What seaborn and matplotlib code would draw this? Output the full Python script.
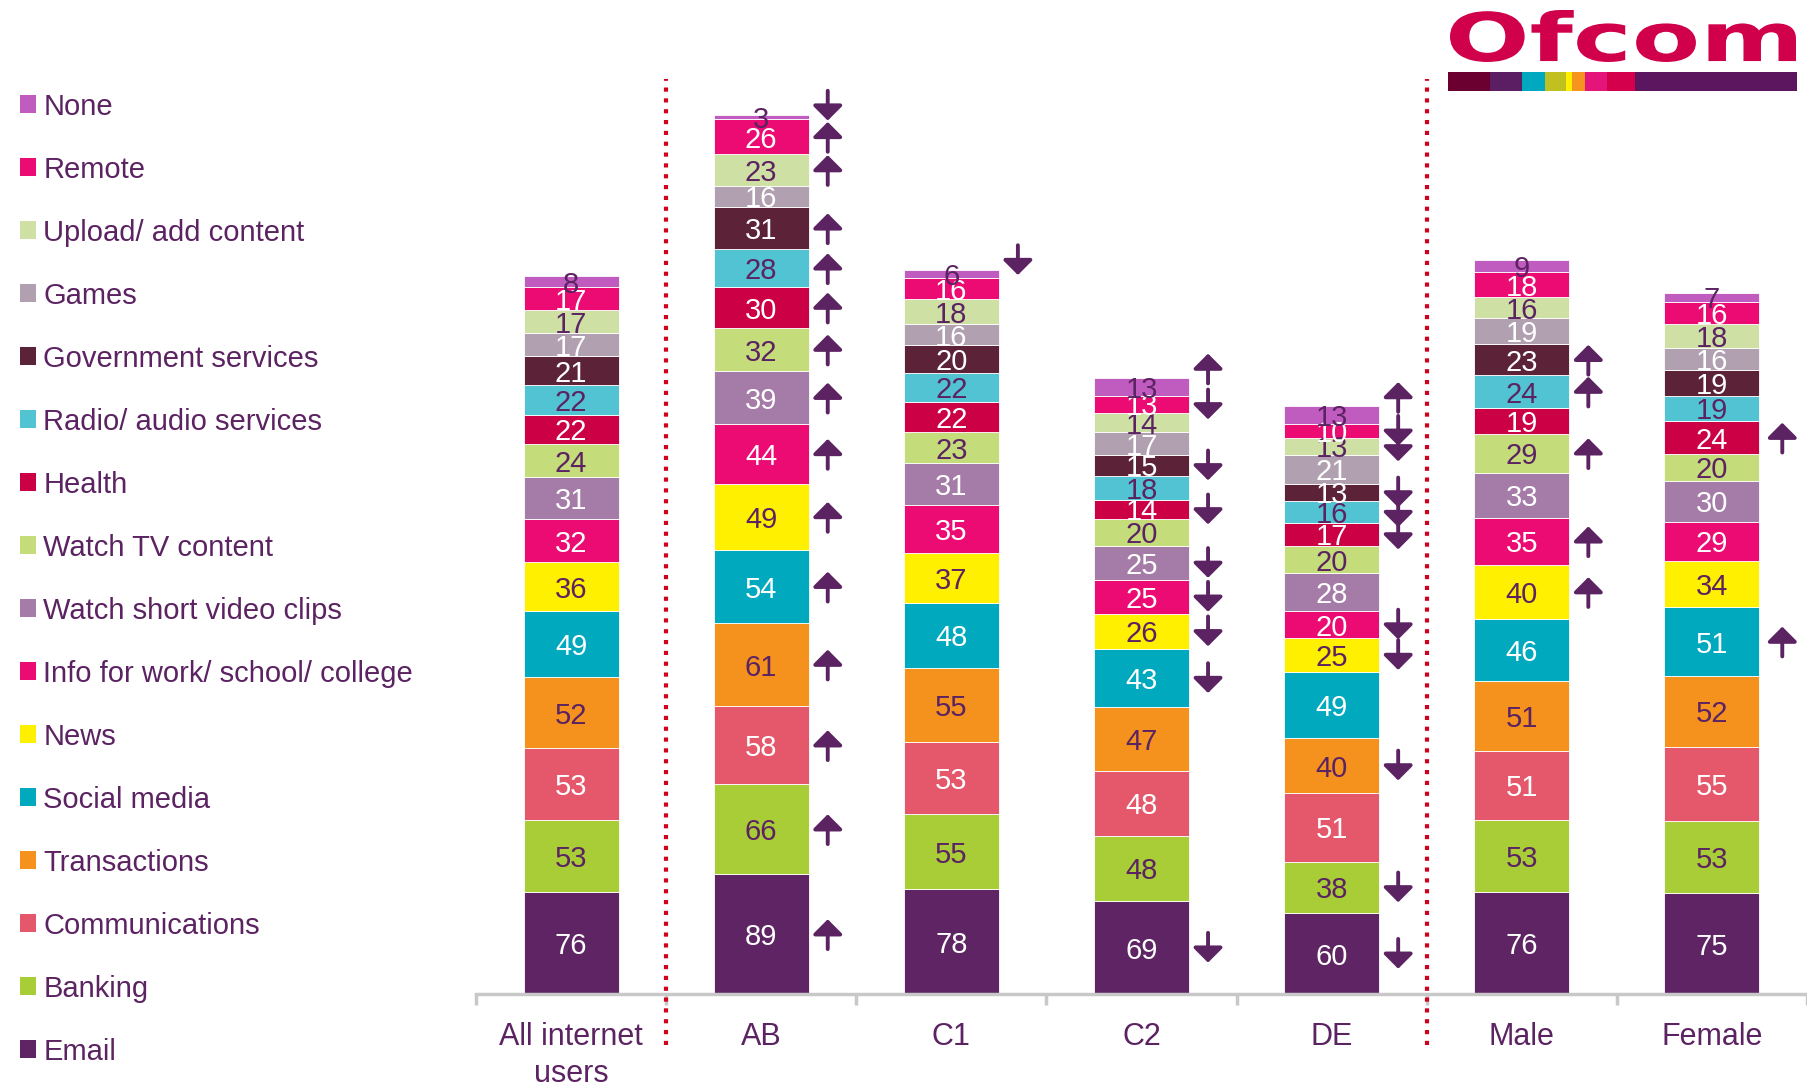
import numpy as np
import pandas as pd
import matplotlib
matplotlib.use("Agg")
import matplotlib.pyplot as plt
import seaborn as sns
from matplotlib.patches import Patch, Rectangle, PathPatch
from matplotlib.textpath import TextPath
from matplotlib.font_manager import FontProperties

# ---- data -------------------------------------------------------------
groups = ["All internet\nusers", "AB", "C1", "C2", "DE", "Male", "Female"]

activities = ["Email", "Banking", "Communications", "Transactions", "Social media",
              "News", "Info for work/ school/ college", "Watch short video clips",
              "Watch TV content", "Health", "Radio/ audio services",
              "Government services", "Games", "Upload/ add content", "Remote", "None"]

email = [76, 89, 78, 69, 60, 76, 75]
banking = [53, 66, 55, 48, 38, 53, 53]
communications = [53, 58, 53, 48, 51, 51, 55]
transactions = [52, 61, 55, 47, 40, 51, 52]
social_media = [49, 54, 48, 43, 49, 46, 51]
news = [36, 49, 37, 26, 25, 40, 34]
info_work = [32, 44, 35, 25, 20, 35, 29]
short_video = [31, 39, 31, 25, 28, 33, 30]
watch_tv = [24, 32, 23, 20, 20, 29, 20]
health = [22, 30, 22, 14, 17, 19, 24]
radio = [22, 28, 22, 18, 16, 24, 19]
government = [21, 31, 20, 15, 13, 23, 19]
games = [17, 16, 16, 17, 21, 19, 16]
upload = [17, 23, 18, 14, 13, 16, 18]
remote = [17, 26, 16, 13, 10, 18, 16]
none = [8, 3, 6, 13, 13, 9, 7]

# significant difference vs all internet users: 1 = higher, -1 = lower
sig_email = [0, 1, 0, -1, -1, 0, 0]
sig_banking = [0, 1, 0, 0, -1, 0, 0]
sig_communications = [0, 1, 0, 0, 0, 0, 0]
sig_transactions = [0, 1, 0, 0, -1, 0, 0]
sig_social_media = [0, 1, 0, -1, 0, 0, 1]
sig_news = [0, 1, 0, -1, -1, 1, 0]
sig_info_work = [0, 1, 0, -1, -1, 1, 0]
sig_short_video = [0, 1, 0, -1, 0, 0, 0]
sig_watch_tv = [0, 1, 0, 0, 0, 1, 0]
sig_health = [0, 1, 0, -1, -1, 0, 1]
sig_radio = [0, 1, 0, 0, -1, 1, 0]
sig_government = [0, 1, 0, -1, -1, 1, 0]
sig_games = [0, 0, 0, 0, 0, 0, 0]
sig_upload = [0, 1, 0, 0, -1, 0, 0]
sig_remote = [0, 1, 0, -1, -1, 0, 0]
sig_none = [0, -1, -1, 1, 1, 0, 0]

values = [email, banking, communications, transactions, social_media, news, info_work,
          short_video, watch_tv, health, radio, government, games, upload, remote, none]
sigs = [sig_email, sig_banking, sig_communications, sig_transactions, sig_social_media,
        sig_news, sig_info_work, sig_short_video, sig_watch_tv, sig_health, sig_radio,
        sig_government, sig_games, sig_upload, sig_remote, sig_none]

colors = ["#5E2463", "#A8CD37", "#E5576A", "#F5921E", "#00A9BE", "#FFF000",
          "#EC0A73", "#A57CA8", "#C4DC7A", "#CC0044", "#52C3D2", "#5C2238",
          "#B0A0B0", "#CFE0A5", "#EC0A73", "#C05BC0"]
PURPLE = "#5C2362"
label_colors = ["white", PURPLE, "white", PURPLE, "white", PURPLE, "white", "white",
                PURPLE, "white", PURPLE, "white", "white", PURPLE, "white", PURPLE]

df = pd.DataFrame({
    "group": np.repeat([groups], len(activities), axis=0).ravel(),
    "activity": np.repeat(activities, len(groups)),
    "value": np.concatenate(values),
})

# ---- figure -----------------------------------------------------------
sns.set_theme(style="white")
plt.rcParams["font.family"] = ["Liberation Sans", "DejaVu Sans"]

fig = plt.figure(figsize=(18.07, 10.89), dpi=100)
ax = fig.add_axes([0.2634, 0.0868, 0.7366, 0.9132])

bottom = np.zeros(len(groups))
for act, col in zip(activities, colors):
    sub = df[df["activity"] == act]
    sns.barplot(data=sub, x="group", y="value", order=groups, color=col,
                width=0.5, bottom=bottom, edgecolor="white", linewidth=0.6,
                saturation=1, errorbar=None, ax=ax)
    bottom = bottom + sub["value"].to_numpy()
totals = bottom

# value labels and significance arrows
base = np.zeros(len(groups))
arrow_len = 22
for k, (vals, sg) in enumerate(zip(values, sigs)):
    for i, v in enumerate(vals):
        yc = base[i] + v / 2
        ax.text(i, yc, str(v), ha="center", va="center_baseline", fontsize=21,
                color=label_colors[k], zorder=5)
        if sg[i] != 0:
            ya = totals[i] + 7 if activities[k] == "None" else yc
            xa = i + 0.35 + (0.02 if i == 6 else 0)
            if sg[i] > 0:
                start, end = ya - arrow_len / 2, ya + arrow_len / 2
            else:
                start, end = ya + arrow_len / 2, ya - arrow_len / 2
            ax.annotate("", xy=(xa, end), xytext=(xa, start),
                        arrowprops=dict(arrowstyle="-|>,head_length=0.45,head_width=0.45",
                                        color=PURPLE, lw=2.8, mutation_scale=20,
                                        shrinkA=0, shrinkB=0),
                        annotation_clip=False, zorder=6)
    base = base + np.array(vals)

ax.set_xlim(-0.5, len(groups) - 0.5)
ax.set_ylim(0, 734)
ax.set_xlabel("")
ax.set_ylabel("")
ax.set_yticks([])
for s in ["top", "right", "left"]:
    ax.spines[s].set_visible(False)
ax.spines["bottom"].set_color("#C8C8C8")
ax.spines["bottom"].set_linewidth(2.5)

ax.set_xticks(range(len(groups)))
ax.set_xticklabels(groups, fontsize=22, color=PURPLE, linespacing=1.3)
ax.tick_params(axis="x", which="major", length=0, pad=20)
ax.set_xticks(np.arange(-0.5, len(groups)), minor=True)
ax.tick_params(axis="x", which="minor", length=8, width=2.5, color="#C8C8C8",
               bottom=True)

# group separators
for xs in (0.5, 4.5):
    ax.plot([xs, xs], [-37, 676], color="#D0021B", lw=3, ls=(0, (1, 1.6)),
            clip_on=False, zorder=7)

# legend, top entry first
handles = [Patch(facecolor=c, edgecolor="none") for c in colors[::-1]]
fig.legend(handles, activities[::-1], loc="upper left", bbox_to_anchor=(0.011, 0.915),
           frameon=False, fontsize=21, labelcolor=PURPLE, handlelength=0.55,
           handleheight=0.55, handletextpad=0.25, labelspacing=1.2, borderpad=0,
           borderaxespad=0)

# Ofcom logo
W, H = 1807.0, 1089.0
tp = TextPath((0, 0), "Ofcom", prop=FontProperties(family="DejaVu Sans", weight="bold"))
ext = tp.get_extents()
lax = fig.add_axes([1450 / W, 1 - 62 / H, 346 / W, 52 / H])
lax.add_patch(PathPatch(tp, facecolor="#D1004B", edgecolor="none"))
lax.set_xlim(ext.x0, ext.x1)
lax.set_ylim(ext.y0, ext.y1)
lax.axis("off")

strip = [(1448, 1490, "#6B0030"), (1490, 1522, "#5B1E62"), (1522, 1545, "#00A9C0"),
         (1545, 1566, "#C0C020"), (1566, 1572, "#FFF000"), (1572, 1585, "#F7941D"),
         (1585, 1607, "#E5147A"), (1607, 1635, "#D4004C"), (1635, 1797, "#5C1660")]
for x0, x1, c in strip:
    fig.add_artist(Rectangle((x0 / W, 1 - 91 / H), (x1 - x0) / W, 19 / H,
                             transform=fig.transFigure, facecolor=c, edgecolor="none"))

fig.savefig("out.png", dpi=100)
